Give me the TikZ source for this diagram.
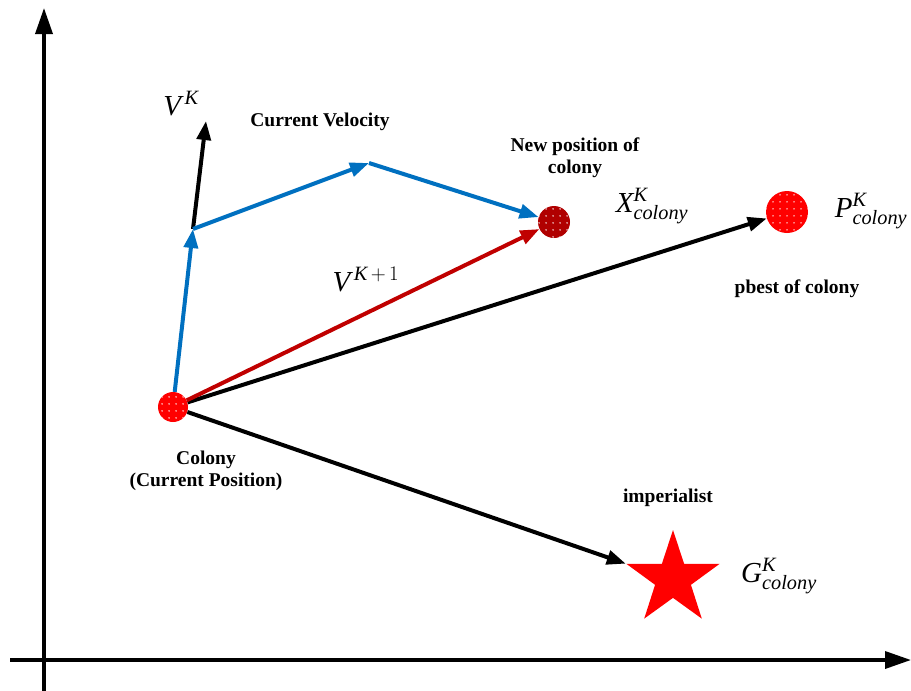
\documentclass[tikz,border=0pt]{standalone}
\usepackage{amsmath}
\usepackage{fontspec}
\setmainfont{Liberation Serif}
\usetikzlibrary{arrows.meta,shapes.geometric,patterns.meta}
\definecolor{vblue}{HTML}{0070C0}
\definecolor{vred}{HTML}{C00000}
\definecolor{dotred}{HTML}{FF0000}
\definecolor{darkdot}{HTML}{B00000}
\begin{document}
\begin{tikzpicture}[x=1pt,y=-1pt,
  vec/.style={line width=4pt,-{Triangle[length=19pt,width=14pt]}},
  axisline/.style={line width=3.5pt,-{Triangle[length=26pt,width=17pt]}},
  dotted ball/.style={circle,inner sep=0pt,fill=#1,
     postaction={pattern={Dots[distance=6.5pt,radius=0.8pt]},pattern color=white}},
  lbl/.style={font=\bfseries\fontsize{19.5}{22}\selectfont,align=center},
  sym/.style={font=\fontsize{29}{32}\selectfont}]
\useasboundingbox (0,0) rectangle (911,691);
% axes
\coordinate (yb) at (44,691);
\coordinate (yt) at (44,8);
\coordinate (xl) at (10,660);
\coordinate (xr) at (911,660);
\draw[axisline] (yb) -- (yt);
\draw[axisline] (xl) -- (xr);
% nodes
\node[dotted ball=dotred,minimum size=30pt] (colony) at (173,407) {};
\node[dotted ball=darkdot,minimum size=32pt] (newpos) at (554,222) {};
\node[dotted ball=dotred,minimum size=42pt] (pbest) at (787,212) {};
\node[star,star points=5,star point ratio=2.6,fill=red,inner sep=0pt,minimum size=98pt] (star) at (673,579) {};
\coordinate (b1) at (193,229);
\coordinate (b2) at (369,163);
\coordinate (vk) at (206,121);
% connectors
\draw[vec,black] (colony) -- (pbest);
\draw[vec,black] (colony) -- (star.outer point 2);
\draw[vec,black] (b1) -- (vk);
\draw[vec,vred] (colony) -- (newpos);
\draw[vec,vblue] (colony) -- (b1);
\draw[vec,vblue] (b1) -- (b2);
\draw[vec,vblue] (b2) -- (newpos);
% labels
\node[sym] (lvk) at (181,104) {$\textit{V}^{\,\textit{K}}$};
\node[lbl] (lcv) at (320,122) {Current Velocity};
\node[lbl] (lnp) at (575,158) {New position of\\colony};
\node[sym] (lx) at (652,206) {$\textit{X}^{\textit{K}}_{\textit{colony}}$};
\node[sym] (lp) at (871,211) {$\textit{P}^{\textit{K}}_{\textit{colony}}$};
\node[lbl] (lpb) at (797,289) {pbest of colony};
\node[sym] (lv1) at (366,280) {$\textit{V}^{\,\textit{K}\,+\,1}$};
\node[lbl] (lcol) at (206,471) {Colony\\(Current Position)};
\node[lbl] (limp) at (668,498) {imperialist};
\node[sym] (lg) at (779,576) {$\textit{G}^{\textit{K}}_{\textit{colony}}$};
\end{tikzpicture}
\end{document}
